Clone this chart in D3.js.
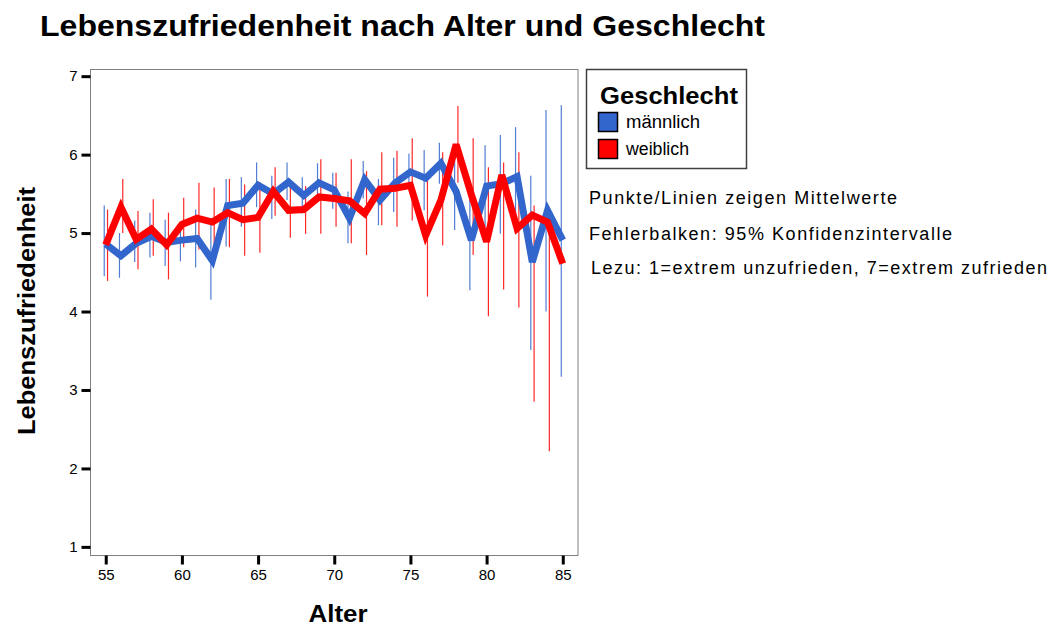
<!DOCTYPE html>
<html>
<head>
<meta charset="utf-8">
<script src="https://cdn.jsdelivr.net/npm/d3@7"></script>
<style>
  html, body { margin: 0; padding: 0; background: #fff; }
  svg { display: block; font-family: "Liberation Sans", Arial, sans-serif; }
</style>
</head>
<body>
<svg id="chart" width="1051" height="629"></svg>
<script>
// Alter (x-Achse)
const ages = [55,56,57,58,59,60,61,62,63,64,65,66,67,68,69,70,71,72,73,74,75,76,77,78,79,80,81,82,83,84,85];

// Mittelwerte Lebenszufriedenheit
const meanMale   = [4.86,4.71,4.87,4.96,4.88,4.91,4.93,4.65,5.35,5.38,5.61,5.50,5.65,5.48,5.64,5.55,5.19,5.68,5.42,5.64,5.78,5.70,5.89,5.53,4.91,5.60,5.63,5.72,4.63,5.29,4.91];
const meanFemale = [4.85,5.33,4.92,5.05,4.85,5.11,5.19,5.14,5.26,5.17,5.20,5.53,5.29,5.30,5.46,5.44,5.41,5.25,5.56,5.57,5.61,4.97,5.42,6.13,5.49,4.89,5.74,5.06,5.23,5.14,4.61];

// 95%-Konfidenzintervalle (untere / obere Grenze)
const lowMale    = [4.45,4.43,4.63,4.69,4.58,4.64,4.56,4.15,4.83,5.08,5.33,5.18,5.42,5.25,5.39,5.31,4.87,5.44,5.10,5.27,5.55,5.29,5.63,5.04,4.27,5.08,4.99,5.10,3.51,4.00,3.17];
const highMale   = [5.35,5.00,5.16,5.26,5.17,5.07,5.30,5.15,5.69,5.71,5.90,5.73,5.90,5.71,5.89,5.77,5.53,5.92,5.69,5.96,6.01,6.06,6.15,6.00,5.55,6.12,6.25,6.35,5.73,6.57,6.63];
const lowFemale  = [4.39,5.00,4.54,4.71,4.41,4.82,4.79,4.72,4.82,4.71,4.75,5.22,4.94,4.99,4.99,5.08,4.87,4.72,5.10,5.08,5.16,4.19,4.84,5.64,4.72,3.94,4.28,4.05,2.85,2.22,null];
const highFemale = [5.30,5.69,5.28,5.43,5.26,5.45,5.64,5.58,5.69,5.62,5.65,5.84,5.64,5.60,5.94,5.77,5.94,5.79,6.03,6.05,6.21,5.75,6.03,6.62,6.21,5.84,5.90,6.03,5.35,5.25,null];

const xTicks = [55,60,65,70,75,80,85];
const yTicks = [1,2,3,4,5,6,7];

const seriesNames = ["männlich", "weiblich"];
const seriesColors = ["#3366cc", "#ff0000"];

const notes = [
  "Punkte/Linien zeigen Mittelwerte",
  "Fehlerbalken: 95% Konfidenzintervalle",
  "Lezu: 1=extrem unzufrieden, 7=extrem zufrieden"
];

const svg = d3.select("#chart");

const plot = { left: 90.5, top: 69.5, right: 578, bottom: 555.5 };

const x = d3.scaleLinear().domain([54, 86]).range([plot.left, plot.right]);
const y = d3.scaleLinear().domain([0.89, 7.085]).range([plot.bottom, plot.top]);

// Titel
svg.append("text")
  .attr("x", 40).attr("y", 36)
  .attr("font-size", 30).attr("font-weight", "bold")
  .attr("textLength", 725).attr("lengthAdjust", "spacingAndGlyphs")
  .text("Lebenszufriedenheit nach Alter und Geschlecht");

// Rahmen des Diagrammbereichs
svg.append("rect")
  .attr("x", plot.left).attr("y", plot.top)
  .attr("width", plot.right - plot.left).attr("height", plot.bottom - plot.top)
  .attr("fill", "#fff").attr("stroke", "#808080").attr("stroke-width", 1);

// Achsen
const xAxis = svg.append("g")
  .attr("transform", `translate(0,${plot.bottom})`)
  .call(d3.axisBottom(x).tickValues(xTicks).tickSize(9).tickPadding(5).tickFormat(d3.format("d")));
const yAxis = svg.append("g")
  .attr("transform", `translate(${plot.left},0)`)
  .call(d3.axisLeft(y).tickValues(yTicks).tickSize(9).tickPadding(4).tickFormat(d3.format("d")));

[xAxis, yAxis].forEach(g => {
  g.attr("font-size", 15).attr("font-family", "'Liberation Sans', Arial, sans-serif");
  g.select(".domain").remove();
  g.selectAll(".tick line").attr("stroke", "#000").attr("stroke-width", 3);
  g.selectAll(".tick text").attr("fill", "#000");
});

// Achsentitel
svg.append("text")
  .attr("x", 338).attr("y", 622)
  .attr("text-anchor", "middle")
  .attr("font-size", 24).attr("font-weight", "bold")
  .attr("textLength", 59).attr("lengthAdjust", "spacingAndGlyphs")
  .text("Alter");

svg.append("text")
  .attr("transform", "translate(35,311) rotate(-90)")
  .attr("text-anchor", "middle")
  .attr("font-size", 24).attr("font-weight", "bold")
  .attr("textLength", 248).attr("lengthAdjust", "spacingAndGlyphs")
  .text("Lebenszufriedenheit");

// Daten je Geschlecht
const series = [
  { name: seriesNames[0], color: seriesColors[0], mean: meanMale,   low: lowMale,   high: highMale,   dx: -1.5 },
  { name: seriesNames[1], color: seriesColors[1], mean: meanFemale, low: lowFemale, high: highFemale, dx: 1.8 }
];

// Fehlerbalken
series.forEach(s => {
  const bars = ages.map((a, i) => ({ age: a, low: s.low[i], high: s.high[i] }))
    .filter(d => d.low != null && d.high != null);
  svg.append("g")
    .selectAll("line")
    .data(bars)
    .join("line")
    .attr("x1", d => x(d.age) + s.dx)
    .attr("x2", d => x(d.age) + s.dx)
    .attr("y1", d => y(d.low))
    .attr("y2", d => y(d.high))
    .attr("stroke", s.color)
    .attr("stroke-width", 1.2)
    .attr("stroke-opacity", 0.85);
});

// Mittelwertlinien
const line = d3.line().x(d => x(d.age)).y(d => y(d.value));
series.forEach(s => {
  svg.append("path")
    .datum(ages.map((a, i) => ({ age: a, value: s.mean[i] })))
    .attr("d", line)
    .attr("fill", "none")
    .attr("stroke", s.color)
    .attr("stroke-width", 7)
    .attr("stroke-linejoin", "miter")
    .attr("stroke-miterlimit", 3);
});

// Legende
const legend = svg.append("g");
legend.append("rect")
  .attr("x", 586.5).attr("y", 69.5).attr("width", 160).attr("height", 99)
  .attr("fill", "#fff").attr("stroke", "#404040").attr("stroke-width", 1.5);
legend.append("text")
  .attr("x", 600).attr("y", 104)
  .attr("font-size", 24).attr("font-weight", "bold")
  .attr("textLength", 138).attr("lengthAdjust", "spacingAndGlyphs")
  .text("Geschlecht");
const legendW = [74, 63];
series.forEach((s, i) => {
  const yy = 112 + i * 27;
  legend.append("rect")
    .attr("x", 598.5).attr("y", yy + 0.5).attr("width", 19).attr("height", 19)
    .attr("fill", s.color).attr("stroke", "#000").attr("stroke-width", 1.5);
  legend.append("text")
    .attr("x", 626).attr("y", yy + 16)
    .attr("font-size", 18)
    .attr("textLength", legendW[i]).attr("lengthAdjust", "spacingAndGlyphs")
    .text(s.name);
});

// Hinweise
const noteX = [589, 589, 591];
const noteY = [204, 240, 274];
const noteW = [308, 363, 456];
notes.forEach((t, i) => {
  svg.append("text")
    .attr("x", noteX[i]).attr("y", noteY[i])
    .attr("font-size", 18)
    .attr("textLength", noteW[i]).attr("lengthAdjust", "spacing")
    .text(t);
});
</script>
</body>
</html>
